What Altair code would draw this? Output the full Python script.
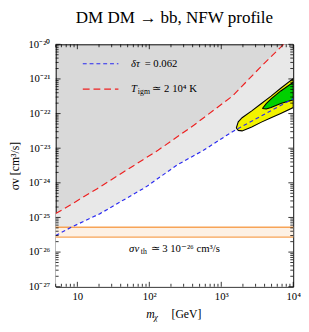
import math
import altair as alt
import pandas as pd

W, H = 244, 249

# ---- data ----
mass_blue = [5, 8.2, 20.7, 88, 245, 566, 1430, 10000]
sv_blue = [3.0e-26, 5.2e-26, 1.29e-25, 7.4e-25, 3.3e-24, 8.7e-24, 3.0e-23, 2.7e-22]

mass_red = [5, 9.6, 18.9, 132, 415, 1430, 3800, 7360]
sv_red = [1.29e-25, 2.9e-25, 6.8e-25, 8.7e-24, 4.6e-23, 3.2e-22, 2.6e-21, 1e-20]

band_sv = [2.7e-26, 5.2e-26]

yellow_mass = [1618, 1722, 1948, 2653, 3614, 4924, 6707, 10000]
yellow_up = [3.84e-23, 5.8e-23, 7.6e-23, 1.2e-22, 1.95e-22, 3.2e-22, 5.4e-22, 1.02e-21]
yellow_lo = [3.84e-23, 3.27e-23, 3.16e-23, 4.1e-23, 5.66e-23, 7.57e-23, 1.01e-22, 1.49e-22]

green_mass = [3730, 4217, 4924, 6707, 10000]
green_up = [1.4e-22, 1.94e-22, 2.67e-22, 4.5e-22, 8.0e-22]
green_lo = [1.4e-22, 1.36e-22, 1.49e-22, 1.94e-22, 2.5e-22]

x_major = [10, 100, 1000, 10000]
x_major_labels = ["10", "10²", "10³", "10⁴"]
x_minor = [m * 10 ** e for e in range(0, 4) for m in range(2, 10) if 5 <= m * 10 ** e <= 10000]
y_major = [10.0 ** e for e in range(-27, -19)]
y_major_labels = ["10⁻²⁷", "10⁻²⁶", "10⁻²⁵", "10⁻²⁴", "10⁻²³", "10⁻²²", "10⁻²¹", "10⁻²⁰"]
y_minor = [m * 10.0 ** e for e in range(-27, -20) for m in range(2, 10)]

legend_mass = [11.9, 37.2]
legend_text_mass = 55.7
legend_sv = [2.74e-21, 5.1e-22]
band_label_mass = 52.4
band_label_sv = 1.2e-26

FONT = "Liberation Serif"

xs = alt.Scale(type="log", domain=[5, 10000], nice=False)
ys = alt.Scale(type="log", domain=[1e-27, 1e-20], nice=False)


def lab_expr(vals, labs):
    expr = "''"
    for v, l in zip(vals, labs):
        expr = f"abs(log(datum.value)/LN10 - ({math.log10(v)})) < 0.01 ? '{l}' : " + expr
    return expr


ax_x = alt.Axis(values=x_major, labelExpr=lab_expr(x_major, x_major_labels), ticks=False, domain=False,
                grid=False, labelFont=FONT, labelFontSize=11, labelColor="black", labelPadding=4,
                title=None, labelFlush=False)
ax_y = alt.Axis(values=y_major, labelExpr=lab_expr(y_major, y_major_labels), ticks=False, domain=False,
                grid=False, labelFont=FONT, labelFontSize=11, labelColor="black", labelPadding=6,
                title="σv  [cm³/s]", titleFont=FONT, titleFontSize=12, titleFontWeight="normal",
                titleColor="black", titlePadding=7, labelFlush=False)

X = lambda f: alt.X(f, type="quantitative", scale=xs, axis=ax_x)
Y = lambda f: alt.Y(f, type="quantitative", scale=ys, axis=ax_y)

df_red_area = pd.DataFrame({"m": mass_red + [10000], "sv": sv_red + [1e-20]})
df_blue = pd.DataFrame({"m": mass_blue, "sv": sv_blue})
df_red = pd.DataFrame({"m": mass_red, "sv": sv_red})

light = alt.Chart(df_red_area).mark_area(color="#e8e8e8", clip=True).encode(
    x=X("m"), y=Y("sv"), y2=alt.datum(1e-27))
white = alt.Chart(df_blue).mark_area(color="white", clip=True).encode(
    x=X("m"), y=Y("sv"), y2=alt.datum(1e-27))

df_band = pd.DataFrame({"m": [5, 10000], "lo": [band_sv[0]] * 2, "hi": [band_sv[1]] * 2})
band_fill = alt.Chart(df_band).mark_area(color="#fdf1e5").encode(
    x=X("m"), y=Y("hi"), y2="lo")
band_lines = alt.Chart(pd.DataFrame({"sv": band_sv})).mark_rule(color="#f7a457", strokeWidth=1.5).encode(
    y=Y("sv"))


def contour(mass, up, lo, fill):
    d = pd.DataFrame({"m": mass, "up": up, "lo": lo})
    area = alt.Chart(d).mark_area(color=fill, clip=True).encode(x=X("m"), y=Y("up"), y2="lo")
    pts = [(m, u, i) for i, (m, u) in enumerate(zip(mass, up))]
    n = len(pts)
    pts += [(m, l, n + i) for i, (m, l) in enumerate(zip(mass[::-1], lo[::-1]))]
    dl = pd.DataFrame(pts, columns=["m", "sv", "o"])
    line = alt.Chart(dl).mark_line(color="black", strokeWidth=1.1, clip=True).encode(
        x=X("m"), y=Y("sv"), order="o")
    return area + line


yellow = contour(yellow_mass, yellow_up, yellow_lo, "#f2f200")
green = contour(green_mass, green_up, green_lo, "#00d000")

blue_line = alt.Chart(df_blue).mark_line(color="#2b2bf0", strokeDash=[4, 3], strokeWidth=1.2, clip=True).encode(
    x=X("m"), y=Y("sv"))
red_line = alt.Chart(df_red).mark_line(color="#ee2020", strokeDash=[7, 4], strokeWidth=1.2, clip=True).encode(
    x=X("m"), y=Y("sv"))

leg_blue = alt.Chart(pd.DataFrame({"m": legend_mass, "sv": [legend_sv[0]] * 2})).mark_line(
    color="#2b2bf0", strokeDash=[4, 3], strokeWidth=1.2).encode(x=X("m"), y=Y("sv"))
leg_red = alt.Chart(pd.DataFrame({"m": legend_mass, "sv": [legend_sv[1]] * 2})).mark_line(
    color="#ee2020", strokeDash=[7, 4], strokeWidth=1.2).encode(x=X("m"), y=Y("sv"))


def piece(m, sv, text, dx=0, dy=0, size=11, style="normal"):
    return alt.Chart(pd.DataFrame({"m": [m], "sv": [sv], "t": [text]})).mark_text(
        font=FONT, fontSize=size, color="black", align="left", baseline="middle", dx=dx, dy=dy,
        fontStyle=style).encode(x=X("m"), y=Y("sv"), text="t")


t1a = piece(legend_text_mass, legend_sv[0], "δτ", style="italic")
t1b = piece(legend_text_mass, legend_sv[0], "= 0.062", dx=14)
t2a = piece(legend_text_mass, legend_sv[1], "T", style="italic")
t2b = piece(legend_text_mass, legend_sv[1], "igm", dx=7, dy=3, size=8)
t2c = piece(legend_text_mass, legend_sv[1], "≃ 2 10⁴ K", dx=22)
t3a = piece(band_label_mass, band_label_sv, "σv", style="italic")
t3b = piece(band_label_mass, band_label_sv, "th", dx=12, dy=3, size=8)
t3c = piece(band_label_mass, band_label_sv, "≃ 3 10⁻²⁶ cm³/s", dx=22)


# x-axis title with a subscript
def xt(text, x, dy=0, size=12, style="normal"):
    return alt.Chart(pd.DataFrame({"t": [text]})).mark_text(
        font=FONT, fontSize=size, color="black", align="left", baseline="middle", fontStyle=style,
        dy=dy).encode(x=alt.value(x), y=alt.value(H + 28), text="t")


xtitle = xt("m", 93, style="italic") + xt("χ", 101, dy=3, size=9, style="italic") + xt("[GeV]", 119)


# inward ticks on all four sides
def xticks(vals, ln):
    d = pd.DataFrame({"m": vals})
    b = alt.Chart(d).mark_rule(color="black", strokeWidth=0.8).encode(
        x=X("m"), y=alt.value(H), y2=alt.value(H - ln))
    t = alt.Chart(d).mark_rule(color="black", strokeWidth=0.8).encode(
        x=X("m"), y=alt.value(0), y2=alt.value(ln))
    return b + t


def yticks(vals, ln):
    d = pd.DataFrame({"sv": vals})
    l = alt.Chart(d).mark_rule(color="black", strokeWidth=0.8).encode(
        y=Y("sv"), x=alt.value(0), x2=alt.value(ln))
    r = alt.Chart(d).mark_rule(color="black", strokeWidth=0.8).encode(
        y=Y("sv"), x=alt.value(W), x2=alt.value(W - ln))
    return l + r


chart = alt.layer(
    light, white, yellow, green, band_fill, band_lines, blue_line, red_line,
    leg_blue, leg_red, t1a, t1b, t2a, t2b, t2c, t3a, t3b, t3c, xtitle,
    xticks(x_major, 5), xticks(x_minor, 3), yticks(y_major, 5), yticks(y_minor, 3),
).properties(
    width=W, height=H,
    title=alt.TitleParams("DM DM → bb,  NFW profile", font=FONT, fontSize=17.5, fontWeight="normal",
                          color="black", offset=12, anchor="middle"),
    padding={"left": 49, "top": 33, "right": 8, "bottom": 34},
    autosize=alt.AutoSizeParams(type="none"),
).configure_view(fill="#d9d9d9", stroke="black", strokeWidth=1)

chart.save("out.html", embed_options={"renderer": "svg", "actions": False})
